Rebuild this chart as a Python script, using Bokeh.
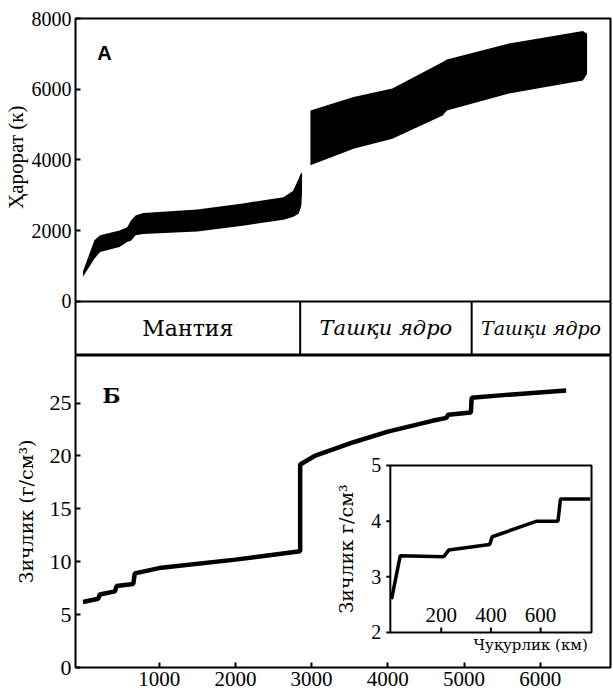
from math import pi
from bokeh.plotting import figure
from bokeh.layouts import column
from bokeh.models import Range1d, FixedTicker, Label, Span, Title
from bokeh.core.properties import value
from bokeh.embed import file_html
from bokeh.resources import INLINE

# ---------------- data ----------------
# Panel A: temperature band (K) versus depth (km)
mantle_depth = [0, 150, 225, 480, 580, 630, 690, 790, 1500, 2120, 2630, 2755, 2830, 2865, 2875]
mantle_temp_low = [700, 1210, 1400, 1540, 1680, 1720, 1870, 1910, 1980, 2150, 2310, 2385, 2480, 2700, 3100]
mantle_temp_high = [850, 1730, 1870, 2010, 2100, 2290, 2430, 2500, 2600, 2780, 2950, 3120, 3470, 3650, 3600]

core_depth = [2985, 3550, 4060, 4720, 4775, 5590, 6560, 6615]
core_temp_low = [3850, 4320, 4600, 5260, 5400, 5880, 6250, 6440]
core_temp_high = [5400, 5780, 6020, 6770, 6840, 7290, 7650, 7570]

# layer strip
layer_names = ["Мантия", "Ташқи ядро", "Ташқи ядро"]
layer_bounds = [2850, 5100]

# Panel B: density (g/cm3) versus depth (km)
density_depth = [0, 200, 220, 420, 440, 660, 680, 1000, 2000, 2850, 2850, 3040, 3550,
                 4000, 4570, 4770, 4790, 5090, 5100, 5590, 6340]
density_value = [6.2, 6.5, 6.9, 7.2, 7.7, 7.9, 8.9, 9.4, 10.2, 11.0, 19.2, 20.0, 21.3,
                 22.3, 23.3, 23.6, 23.9, 24.1, 25.5, 25.8, 26.2]

# inset: upper 800 km
inset_depth = [0, 35, 210, 230, 395, 405, 585, 670, 680, 800]
inset_density = [2.6, 3.38, 3.36, 3.48, 3.58, 3.72, 4.0, 4.0, 4.40, 4.40]

temp_ticks = [0, 2000, 4000, 6000, 8000]
depth_ticks = [1000, 2000, 3000, 4000, 5000, 6000]
density_ticks = [0, 5, 10, 15, 20, 25]
inset_depth_ticks = [200, 400, 600]
inset_density_ticks = [2, 3, 4, 5]

# ---------------- layout constants ----------------
X0, X1 = -98, 6922
BAND_BOTTOM = -1527
D_TOP = 29.5
INSET_X = (-5, 805)
INSET_Y = (2, 5)
INSET_BOX = (4033, 6673, 3.31, 19.1)   # where the inset sits, in main-panel units

SERIF = "Liberation Serif"
WIDE = "DejaVu Serif"

xr = Range1d(X0, X1)


def style(p):
    p.grid.visible = False
    p.outline_line_color = "black"
    p.outline_line_width = 2
    p.outline_line_alpha = 1
    p.background_fill_color = "white"
    p.border_fill_color = "white"
    for ax in p.axis:
        ax.axis_line_color = None
        ax.major_tick_in = 5
        ax.major_tick_out = 0
        ax.minor_tick_line_color = None
        ax.major_tick_line_color = "black"
        ax.major_tick_line_width = 2
        ax.major_label_text_font = SERIF
        ax.major_label_text_font_style = "normal"
        ax.major_label_text_color = "black"
        ax.major_label_standoff = 4


# ---------------- panel A + layer strip ----------------
p1 = figure(width=613, height=355, x_range=xr, y_range=Range1d(BAND_BOTTOM, 8000),
            output_backend="svg", toolbar_location=None,
            min_border_left=73, min_border_right=3, min_border_top=18, min_border_bottom=0)
style(p1)
p1.xaxis.visible = False
p1.yaxis.ticker = FixedTicker(ticks=temp_ticks)
p1.yaxis.major_label_text_font_size = "20px"

p1.varea(x=mantle_depth, y1=mantle_temp_low, y2=mantle_temp_high, fill_color="black")
p1.varea(x=core_depth, y1=core_temp_low, y2=core_temp_high, fill_color="black")

p1.add_layout(Span(location=0, dimension="width", line_color="black", line_width=2))
p1.segment(x0=layer_bounds, y0=[BAND_BOTTOM] * len(layer_bounds),
           x1=layer_bounds, y1=[0] * len(layer_bounds), line_color="black", line_width=2)

edges = [X0] + layer_bounds + [X1]
centers = [(edges[i] + edges[i + 1]) / 2 for i in range(len(layer_names))]
band_mid = BAND_BOTTOM / 2
p1.text(x=centers[:1], y=[band_mid], text=layer_names[:1], text_font=value(WIDE),
        text_font_size="22px", text_align="center", text_baseline="middle", text_color="black")
p1.text(x=centers[1:2], y=[band_mid], text=layer_names[1:2], text_font=value(WIDE),
        text_font_style="italic", text_font_size="21px", text_align="center",
        text_baseline="middle", text_color="black")
p1.text(x=centers[2:3], y=[band_mid], text=layer_names[2:3], text_font=value(WIDE),
        text_font_style="italic", text_font_size="19px", text_align="center",
        text_baseline="middle", text_color="black")

p1.add_layout(Label(x=281, y=7025, text="А", text_font="Liberation Sans", text_font_style="bold",
                    text_font_size="20px", text_align="center", text_baseline="middle",
                    text_color="black"))
p1.add_layout(Title(text="Ҳарорат (к)", align="right", offset=87, standoff=2,
                    text_font=SERIF, text_font_size="21px", text_font_style="normal",
                    text_color="black"), "left")

# ---------------- panel B ----------------
p2 = figure(width=613, height=342, x_range=xr, y_range=Range1d(0, D_TOP),
            output_backend="svg", toolbar_location=None,
            min_border_left=73, min_border_right=3, min_border_top=0, min_border_bottom=30)
style(p2)
p2.xaxis.ticker = FixedTicker(ticks=depth_ticks)
p2.yaxis.ticker = FixedTicker(ticks=density_ticks)
p2.xaxis.major_label_text_font_size = "21px"
p2.yaxis.major_label_text_font_size = "22px"
p2.yaxis.axis_label = "Зичлик (г/см³)"
p2.yaxis.axis_label_text_font = WIDE
p2.yaxis.axis_label_text_font_size = "19px"
p2.yaxis.axis_label_text_font_style = "normal"
p2.yaxis.axis_label_text_color = "black"
p2.yaxis.axis_label_standoff = 10

p2.line(density_depth, density_value, line_color="black", line_width=4.5)

p2.add_layout(Label(x=373, y=25.7, text="Б", text_font=WIDE, text_font_style="bold",
                    text_font_size="21px", text_align="center", text_baseline="middle",
                    text_color="black"))

# inset ranges so that INSET_X / INSET_Y land on INSET_BOX
bx0, bx1, by0, by1 = INSET_BOX
sx = (INSET_X[1] - INSET_X[0]) / (bx1 - bx0)
sy = (INSET_Y[1] - INSET_Y[0]) / (by1 - by0)
p2.extra_x_ranges = {"ix": Range1d(INSET_X[0] - (bx0 - X0) * sx, INSET_X[1] + (X1 - bx1) * sx)}
p2.extra_y_ranges = {"iy": Range1d(INSET_Y[0] - (by0 - 0) * sy, INSET_Y[1] + (D_TOP - by1) * sy)}
ik = dict(x_range_name="ix", y_range_name="iy")

p2.quad(left=[INSET_X[0]], right=[INSET_X[1]], bottom=[INSET_Y[0]], top=[INSET_Y[1]],
        fill_color="white", line_color="black", line_width=2, **ik)
p2.line(inset_depth, inset_density, line_color="black", line_width=3.5, **ik)

tlx = (INSET_X[1] - INSET_X[0]) * 0.02
tly = (INSET_Y[1] - INSET_Y[0]) * 0.03
p2.segment(x0=[INSET_X[0] - tlx] * len(inset_density_ticks), y0=inset_density_ticks,
           x1=[INSET_X[0]] * len(inset_density_ticks), y1=inset_density_ticks,
           line_color="black", line_width=2, **ik)
p2.segment(x0=inset_depth_ticks, y0=[INSET_Y[0]] * len(inset_depth_ticks),
           x1=inset_depth_ticks, y1=[INSET_Y[0] + tly] * len(inset_depth_ticks),
           line_color="black", line_width=2, **ik)
p2.text(x=[INSET_X[0]] * len(inset_density_ticks), y=inset_density_ticks,
        text=[str(t) for t in inset_density_ticks], x_offset=-9,
        text_font=value(SERIF), text_font_size="20px",
        text_align="right", text_baseline="middle", text_color="black", **ik)
p2.text(x=inset_depth_ticks, y=[INSET_Y[0]] * len(inset_depth_ticks),
        text=[str(t) for t in inset_depth_ticks], y_offset=-10,
        text_font=value(SERIF), text_font_size="21px",
        text_align="center", text_baseline="bottom", text_color="black", **ik)
p2.text(x=[INSET_X[0]], y=[(INSET_Y[0] + INSET_Y[1]) / 2], text=["Зичлик г/см³"],
        angle=pi / 2, x_offset=-44, text_font=value(WIDE), text_font_size="19px",
        text_align="center", text_baseline="middle", text_color="black", **ik)
p2.text(x=[560], y=[INSET_Y[0]], text=["Чуқурлик (км)"], y_offset=4,
        text_font=value(WIDE), text_font_size="15px", text_align="center",
        text_baseline="top", text_color="black", **ik)

layout = column(p1, p2, spacing=0)
open("out.html", "w").write(file_html(layout, INLINE))
